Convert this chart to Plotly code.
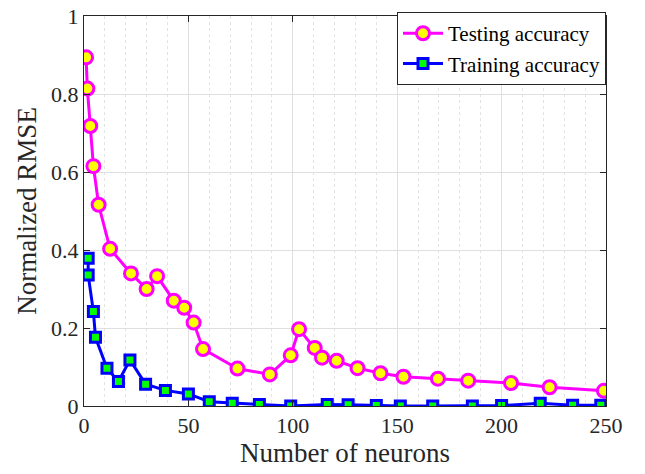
import plotly.graph_objects as go

test_x = [1, 1.6, 3, 4.5, 7, 12.5, 22.5, 30, 35, 43, 48, 52.5, 57, 73.5, 89, 99, 103, 110.5, 114, 121, 131, 142, 153, 169.5, 184, 204.5, 223, 249]
test_y = [0.894, 0.814, 0.718, 0.615, 0.516, 0.403, 0.340, 0.300, 0.333, 0.270, 0.252, 0.214, 0.146, 0.096, 0.081, 0.130, 0.197, 0.149, 0.124, 0.116, 0.097, 0.084, 0.075, 0.070, 0.065, 0.059, 0.048, 0.039]

train_x = [2, 2, 4.5, 5.5, 11, 16.5, 22, 29.5, 39, 50, 60, 71, 84, 99, 116.5, 126.5, 140, 151.5, 167, 186, 200, 218.5, 234, 247.5]
train_y = [0.379, 0.336, 0.242, 0.176, 0.097, 0.063, 0.118, 0.056, 0.040, 0.031, 0.011, 0.007, 0.004, 0.0, 0.004, 0.003, 0.001, 0.0, 0.0, 0.0, 0.001, 0.007, 0.002, 0.002]

FONT = "Liberation Serif"

fig = go.Figure()
fig.add_trace(go.Scatter(
    x=test_x, y=test_y, mode="lines+markers", name="Testing accuracy",
    line=dict(color="#ff00ff", width=3),
    marker=dict(symbol="circle", size=13, color="#ffff00", line=dict(color="#ff00ff", width=3)),
))
fig.add_trace(go.Scatter(
    x=train_x, y=train_y, mode="lines+markers", name="Training accuracy",
    line=dict(color="#0000ff", width=3),
    marker=dict(symbol="square", size=10, color="#00ff00", line=dict(color="#0000ff", width=3)),
))

axis_common = dict(
    showline=True, linecolor="#262626", linewidth=1, mirror="ticks",
    ticks="inside", ticklen=6, tickcolor="#262626",
    showgrid=True, gridcolor="#dfdfdf", gridwidth=1,
    zeroline=False, automargin=False,
    tickfont=dict(family=FONT, size=22, color="#262626"),
    ticklabeloverflow="allow",
)

fig.update_xaxes(
    range=[0, 250], tickvals=[0, 50, 100, 150, 200, 250],
    title=dict(text="Number of neurons", font=dict(family=FONT, size=27, color="#262626"), standoff=2),
    minor=dict(dtick=10, tick0=0, showgrid=True, gridcolor="#e3e3e3", griddash="dot", gridwidth=1),
    **axis_common,
)
fig.update_yaxes(
    range=[0, 1], tickvals=[0, 0.2, 0.4, 0.6, 0.8, 1],
    title=dict(text="Normalized RMSE", font=dict(family=FONT, size=27, color="#262626"), standoff=6),
    **axis_common,
)

fig.update_layout(
    width=645, height=474,
    margin=dict(l=84, r=39, t=13, b=68),
    plot_bgcolor="white", paper_bgcolor="white",
    showlegend=True,
    legend=dict(
        x=1, y=1.01, xanchor="right", yanchor="top",
        bgcolor="white", bordercolor="#262626", borderwidth=1,
        font=dict(family=FONT, size=21, color="black"),
        tracegroupgap=0, itemwidth=40,
    ),
)

fig.write_html("out.html")
